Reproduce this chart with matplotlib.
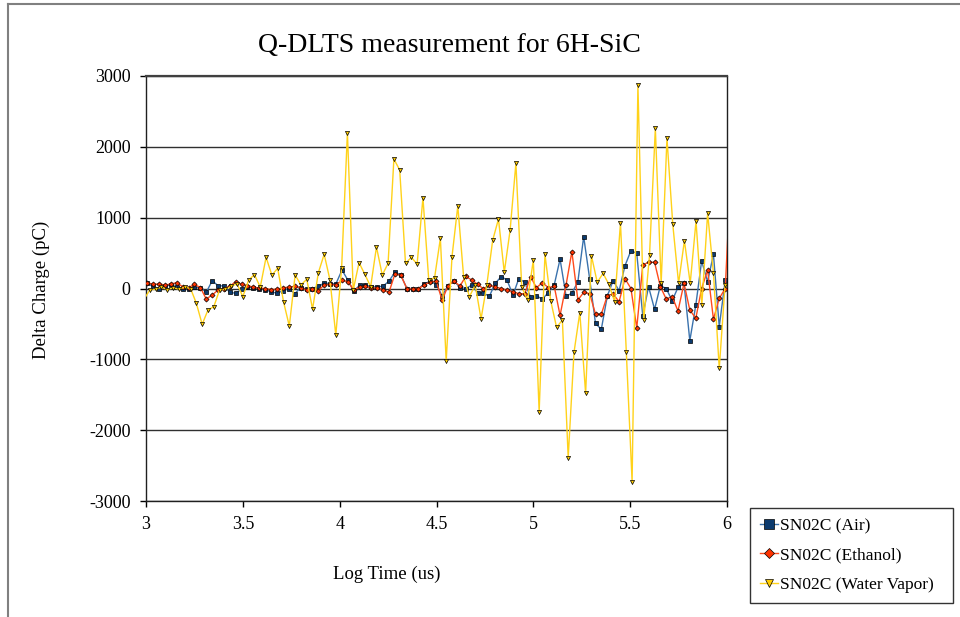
import matplotlib
matplotlib.use("Agg")
import matplotlib.pyplot as plt
from matplotlib.lines import Line2D

# log10 of time (us) for each run
water_x = [2.99, 3.02, 3.05, 3.08, 3.11, 3.14, 3.17, 3.20, 3.23, 3.26,
           3.29, 3.32, 3.35, 3.38, 3.41, 3.44, 3.47, 3.50, 3.53, 3.56,
           3.59, 3.62, 3.65, 3.68, 3.71, 3.74, 3.77, 3.80, 3.83, 3.86,
           3.89, 3.92, 3.95, 3.98, 4.01, 4.04, 4.07, 4.10, 4.13, 4.16,
           4.19, 4.22, 4.25, 4.28, 4.31, 4.34, 4.37, 4.40, 4.43, 4.46,
           4.49, 4.52, 4.55, 4.58, 4.61, 4.64, 4.67, 4.70, 4.73, 4.76,
           4.79, 4.82, 4.85, 4.88, 4.91, 4.94, 4.97, 5.00, 5.03, 5.06,
           5.09, 5.12, 5.15, 5.18, 5.21, 5.24, 5.27, 5.30, 5.33, 5.36,
           5.39, 5.42, 5.45, 5.48, 5.51, 5.54, 5.57, 5.60, 5.63, 5.66,
           5.69, 5.72, 5.75, 5.78, 5.81, 5.84, 5.87, 5.90, 5.93, 5.96,
           5.99, 6.02]

air_x = [3.007, 3.037, 3.068, 3.098, 3.129, 3.159, 3.189, 3.220, 3.250, 3.281,
         3.311, 3.342, 3.372, 3.403, 3.433, 3.464, 3.494, 3.524, 3.555, 3.585,
         3.616, 3.646, 3.677, 3.707, 3.738, 3.768, 3.798, 3.829, 3.859, 3.890,
         3.920, 3.951, 3.981, 4.012, 4.042, 4.073, 4.103, 4.133, 4.164, 4.194,
         4.225, 4.255, 4.286, 4.316, 4.347, 4.377, 4.407, 4.438, 4.468, 4.499,
         4.529, 4.560, 4.590, 4.621, 4.651, 4.682, 4.712, 4.742, 4.773, 4.803,
         4.834, 4.864, 4.895, 4.925, 4.956, 4.986, 5.016, 5.047, 5.077, 5.108,
         5.138, 5.169, 5.199, 5.230, 5.260, 5.291, 5.321, 5.351, 5.382, 5.412,
         5.443, 5.473, 5.504, 5.534, 5.565, 5.595, 5.626, 5.656, 5.686, 5.717,
         5.747, 5.778, 5.808, 5.839, 5.869, 5.900, 5.930, 5.960, 5.991, 6.021]

# delta charge (pC)
air_q = [73, 26, 0, 35, 49, 26, -7, 0, 16, 12,
         -54, 110, 40, 35, -54, -68, -7, 16, 12, 0,
         -21, -45, -68, -30, 0, -75, 12, -7, 0, 30,
         78, 68, 68, 261, 120, -40, 49, 49, 26, 20,
         35, 106, 232, 190, 0, 0, 0, 65, 105, 55,
         -103, 42, 108, 14, 0, 47, -59, -63, -110, 73,
         167, 120, -92, 140, 87, -127, -106, -148, -59, 52,
         415, -106, -68, 96, 731, 134, -494, -576, -106, 110,
         -31, 320, 534, 497, -384, 26, -294, 40, 0, -172,
         16, 73, -737, -233, 388, 96, 483, -539, 120, 150]

ethanol_q = [82, 59, 64, 49, 64, 82, 26, 12, 59, 12,
             -148, -92, -21, 0, 35, 96, 59, 40, 20, 5,
             0, -15, -10, 10, 20, 30, 10, -20, 0, -30,
             50, 60, 50, 115, 95, -18, 20, 30, 5, 10,
             -25, -50, 210, 185, 0, -10, 0, 48, 98, 100,
             -165, 40, 105, 35, 170, 120, 60, -5, 47, 20,
             0, -21, -48, -73, -74, 165, 12, 82, 13, 30,
             -380, 49, 520, -162, -56, -73, -360, -364, -100, -78,
             -186, 140, 0, -558, 332, 370, 370, 26, -148, -115,
             -318, 73, -304, -421, 0, 261, -435, -139, 0, 1700]

water_q = [-150, -20, -10, 20, -15, 10, -10, 20, 0, -209,
           -506, -304, -257, -20, -10, 30, 68, -115, 120, 195,
           20, 440, 190, 285, -186, -530, 190, 50, 130, -290,
           223, 483, 120, -656, 285, 2200, -21, 365, 200, 25,
           586, 190, 355, 1828, 1673, 355, 440, 346, 1282, 120,
           150, 708, -1024, 449, 1165, 167, -115, 50, -430, 55,
           680, 981, 229, 822, 1768, 25, -162, 402, -1740, 483,
           -177, -548, -445, -2389, -901, -341, -1480, 463, 87, 214,
           59, -186, 925, -892, -2728, 2873, -445, 473, 2262, 73,
           2121, 906, 73, 675, 73, 949, -233, 1062, 215, -1127,
           50, 0]

x_ticks = [3, 3.5, 4, 4.5, 5, 5.5, 6]
y_ticks = [-3000, -2000, -1000, 0, 1000, 2000, 3000]

plt.rcParams['font.family'] = ['Liberation Serif', 'DejaVu Serif']
plt.rcParams['axes.unicode_minus'] = False

fig = plt.figure(figsize=(9.6, 6.17), dpi=100)
ax = fig.add_axes([146 / 960, 1 - 501 / 617, 581 / 960, 425 / 617])

ax.plot(air_x, air_q, color='#3a72ad', lw=1.0, marker='s', ms=3.4,
        mfc='#0b3a6e', mec='black', mew=0.5, label='SN02C (Air)', zorder=3)
ax.plot(air_x, ethanol_q, color='#ff4a1c', lw=1.0, marker='D', ms=2.6,
        mfc='#ff3300', mec='black', mew=0.5, label='SN02C (Ethanol)', zorder=4)
ax.plot(water_x, water_q, color='#ffd21a', lw=1.0, marker='v', ms=3.0,
        mfc='#ffcc00', mec='black', mew=0.5, label='SN02C (Water Vapor)', zorder=5)

ax.set_xlim(3, 6)
ax.set_ylim(-3000, 3000)
ax.set_xticks(x_ticks)
ax.set_xticklabels(['3', '3.5', '4', '4.5', '5', '5.5', '6'])
ax.set_yticks(y_ticks)
ax.yaxis.grid(True, color='#303030', lw=1.0)
ax.set_axisbelow(True)
ax.tick_params(direction='out', length=4, width=1, labelsize=13, pad=7)
for sp in ax.spines.values():
    sp.set_color('#202020')
    sp.set_linewidth(1.0)
ax.spines['top'].set_linewidth(1.6)
ax.spines['top'].set_color('#404040')

fig.text(449 / 960, 1 - 46 / 617, 'Q-DLTS measurement for 6H-SiC',
         ha='center', va='center', fontsize=20)
fig.text(387 / 960, 1 - 574 / 617, 'Log Time (us)',
         ha='center', va='center', fontsize=13.5)
fig.text(41 / 960, 1 - 290 / 617, 'Delta Charge (pC)',
         ha='center', va='center', rotation=90, fontsize=13.5)

leg = fig.legend(loc='lower left', bbox_to_anchor=(750 / 960, 14 / 617, 203 / 960, 100 / 617),
                 mode='expand', fontsize=12.5, frameon=True, fancybox=False,
                 handlelength=1.0, handletextpad=0.15, labelspacing=0.75,
                 borderaxespad=0, borderpad=0.6, markerscale=2.1)
leg.get_frame().set_edgecolor('black')
leg.get_frame().set_linewidth(1.0)

# outer chart border
fig.add_artist(Line2D([8 / 960, 1.0], [1 - 4 / 617, 1 - 4 / 617],
                      transform=fig.transFigure, color='#808080', lw=1.5))
fig.add_artist(Line2D([8 / 960, 8 / 960], [0.0, 1 - 4 / 617],
                      transform=fig.transFigure, color='#808080', lw=1.5))

fig.savefig('out.png', dpi=100)
